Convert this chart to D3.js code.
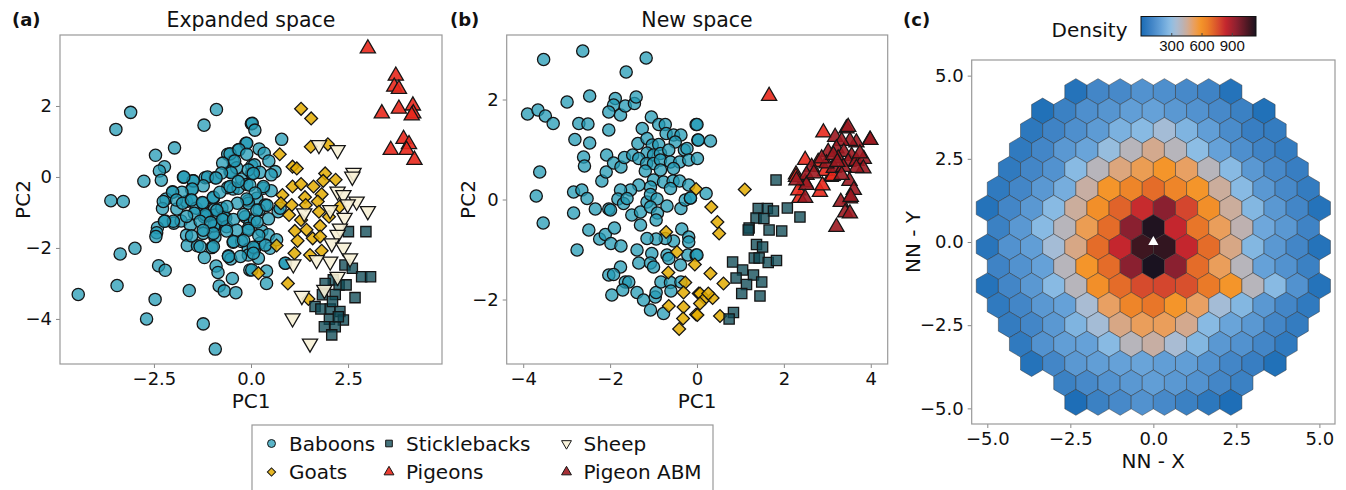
<!DOCTYPE html>
<html>
<head>
<meta charset="utf-8">
<script src="https://d3js.org/d3.v7.min.js"></script>
<style>
  body { margin: 0; background: #fff; }
  svg text { font-family: "DejaVu Sans", sans-serif; fill: #111; }
</style>
</head>
<body>
<div id="chart"></div>
<script>
// ---- panel (a): expanded space ----
const baboonsA = [[-3.10,1.82],[-3.48,1.34],[-0.89,1.90],[-1.21,1.46],[-1.97,0.82],[-2.46,0.61],[-2.23,0.29],[-2.36,0.17],[-2.31,-0.09],[-2.76,-0.12],[-3.61,-0.67],[-3.29,-0.69],[-2.02,-0.42],[-2.19,-0.62],[-2.28,-0.89],[-1.91,-0.90],[-2.21,-1.24],[-1.99,-1.30],[-2.41,-1.43],[-2.43,-1.57],[-2.45,-1.68],[-1.74,-0.01],[-1.49,-0.11],[-1.53,-0.35],[-1.66,-0.69],[-1.80,-1.24],[-1.56,-1.36],[-1.66,-1.64],[-1.64,-1.93],[-1.38,-1.94],[-1.18,-0.02],[-0.92,-0.02],[-1.55,-0.64],[-1.41,-0.88],[-1.23,-0.74],[-0.97,-0.60],[-0.94,-0.91],[-1.21,-1.12],[-0.93,-1.07],[-0.75,-0.88],[-0.65,-1.15],[-0.90,-1.35],[-1.23,-1.59],[-0.93,-1.70],[-1.01,-1.99],[-1.20,-2.27],[-0.90,-2.51],[-0.85,-2.69],[-0.48,-2.86],[-0.82,-3.07],[-0.69,-3.21],[-0.39,-3.26],[-1.59,-3.20],[-1.23,-4.14],[-0.92,-4.85],[-2.69,-4.00],[-2.47,-3.45],[-3.45,-3.06],[-4.45,-3.31],[-2.38,-2.50],[-2.21,-2.63],[-2.99,-2.01],[-3.37,-2.17],[-0.60,0.64],[-0.33,0.76],[-0.13,0.95],[0.01,1.50],[-0.46,0.45],[-0.54,0.15],[-0.37,0.26],[-0.60,-0.30],[-0.46,-0.34],[-0.33,-0.32],[-0.24,-0.06],[-0.11,-0.21],[-0.07,-0.67],[-0.15,-1.12],[-0.46,-1.84],[-0.24,-1.82],[-0.58,-2.22],[-0.52,-2.31],[-0.03,-1.32],[-0.07,-2.04],[-0.03,-2.62],[0.02,0.31],[0.02,0.10],[-1.14,-1.09],[-0.70,-1.12],[-0.96,-1.38],[-0.63,-1.40],
  [0.03,1.51],[0.10,1.32],[0.79,1.06],[-0.11,0.95],[0.21,0.79],[0.34,0.67],[0.46,0.45],[0.09,0.34],[0.62,0.15],[0.23,0.13],[0.52,0.06],[-0.07,0.20],[-0.03,-0.23],[0.32,-0.32],[0.52,-0.39],[0.15,-0.60],[-0.07,-0.74],[0.36,-0.79],[0.70,-0.98],[0.21,-0.93],[0.09,-1.21],[-0.07,-1.45],[0.28,-1.52],[0.45,-1.63],[0.23,-1.87],[0.49,-2.01],[0.10,-2.01],[-0.07,-2.20],[0.19,-2.29],[0.40,-2.65],[0.02,-2.62],[0.40,-3.00],[0.89,-2.43],[0.75,-0.88],
  [-0.54,0.65],[-0.31,0.77],[-0.11,0.64],[-0.42,0.45],[-0.73,0.39],[-0.51,0.12],[-0.76,0.11],[-1.12,0.00],[-0.90,-0.03],[-1.23,-0.25],[-1.49,-0.11],[-1.73,0.00],[-1.51,-0.34],[-1.78,-0.43],[-2.02,-0.43],[-2.26,-0.69],[-1.92,-0.65],[-1.76,-0.74],[-1.53,-0.65],[-1.25,-0.72],[-0.97,-0.57],[-0.80,-0.43],[-0.54,-0.27],[-0.33,-0.13],[0.06,0.10],[0.32,-0.27],[0.11,-0.45],[-0.11,-0.62],[-0.35,-0.74],[-0.62,-0.83],[-0.88,-0.94],[-1.18,-1.06],[-1.46,-1.02],[-1.66,-1.11],[-2.00,-1.25],[-2.23,-1.25],[-1.31,-1.25],[-1.04,-1.28],[-0.73,-1.20],[-0.45,-1.20],[-0.19,-1.06],[0.15,-0.94],[0.41,-0.80],[0.45,-1.18],[0.16,-1.27],[-0.07,-1.50],[-0.37,-1.50],[-0.63,-1.52],[-0.97,-1.59],[-1.23,-1.50],[-1.53,-1.66],[-1.31,-1.96],[-0.97,-1.96],[-0.45,-1.82],[-0.19,-1.79],[0.06,-1.98],[0.37,-1.92],[0.20,-1.65],[0.06,-2.15],[-0.58,-2.24],[-0.27,-2.24],[0.66,-1.77],[0.88,-2.43]];
const goatsA = [[1.29,1.92],[1.55,1.65],[1.54,0.85],[1.98,0.92],[0.74,0.64],[1.07,0.29],[1.18,0.24],[1.91,0.10],[2.18,-0.08],[1.86,-0.11],[1.07,-0.27],[1.29,-0.20],[1.61,-0.27],[0.81,-0.51],[1.39,-0.57],[1.82,-0.49],[0.77,-0.74],[1.05,-0.79],[1.41,-0.79],[1.72,-0.69],[2.28,-0.84],[0.98,-1.07],[1.75,-0.98],[2.01,-1.12],[1.29,-1.21],[1.43,-1.49],[1.78,-1.38],[1.13,-1.52],[1.20,-1.80],[1.59,-1.73],[1.78,-1.68],[0.66,-1.93],[1.12,-2.15],[1.52,-2.20],[1.82,-2.08],[0.19,-2.71],[0.95,-3.00],[1.48,-3.44]];
const sticklebacksA = [[2.96,-1.54],[2.51,-1.54],[2.42,-2.48],[2.61,-2.57],[2.85,-2.81],[3.08,-2.81],[2.68,-3.40],[2.12,-2.90],[1.91,-3.00],[2.27,-3.04],[2.17,-3.31],[1.84,-3.32],[2.45,-3.04],[1.65,-3.65],[1.80,-3.72],[2.04,-3.72],[2.29,-3.79],[2.10,-3.51],[2.02,-4.01],[2.38,-4.03],[1.89,-4.22],[2.17,-4.22],[2.08,-4.45],[2.25,-3.94]];
const pigeonsA = [[3.01,3.62],[3.73,2.85],[3.69,2.54],[3.81,2.48],[3.37,1.79],[3.81,1.92],[4.17,2.01],[4.18,1.79],[4.14,1.73],[3.93,1.07],[4.07,0.92],[3.60,0.76],[4.01,0.76],[4.21,0.48]];
const sheepA = [[1.75,0.90],[2.23,0.76],[2.64,0.12],[2.61,0.01],[2.23,-0.41],[2.38,-0.51],[2.72,-0.69],[2.49,-0.77],[3.01,-0.96],[2.04,-0.93],[2.41,-1.15],[2.29,-1.45],[2.23,-1.63],[2.08,-1.87],[2.38,-1.99],[2.55,-2.29],[2.04,-2.38],[1.69,-2.34],[1.09,-2.46],[2.23,-2.81],[1.89,-3.18],[1.31,-3.35],[1.07,-3.98],[1.52,-4.69],[1.37,-1.02]];

// ---- panel (b): new space ----
const baboonsB = [[-3.53,2.80],[-2.63,2.97],[-1.17,2.83],[-1.63,2.55],[-3.90,1.71],[-3.66,1.79],[-3.49,1.67],[-3.31,1.52],[-2.99,1.95],[-2.47,2.07],[-2.72,1.52],[-2.51,1.51],[-2.81,1.20],[-2.47,1.13],[-2.61,0.85],[-2.59,0.67],[-3.62,0.55],[-3.70,0.07],[-3.54,-0.47],[-2.84,0.15],[-2.65,0.19],[-2.53,0.02],[-2.84,-0.27],[-2.34,-0.19],[-2.49,-0.61],[-2.76,-1.01],[-2.24,-0.79],[-2.11,-0.70],[-1.98,-0.88],[-1.75,-0.93],[-1.90,-0.57],[-2.03,-0.19],[-1.88,2.02],[-1.92,1.89],[-2.03,1.75],[-1.76,1.69],[-1.65,1.87],[-1.44,1.92],[-1.40,2.05],[-2.03,1.39],[-2.08,0.89],[-2.19,0.37],[-2.09,0.55],[-1.92,0.73],[-1.75,0.65],[-1.67,0.84],[-1.48,0.89],[-1.36,1.12],[-1.26,1.42],[-1.05,1.65],[-0.88,1.50],[-0.73,1.50],[-0.71,1.32],[-0.54,1.29],[-0.37,1.29],[-0.50,1.15],[-0.29,0.99],[-0.23,1.02],[-0.02,1.50],[0.02,1.19],[-1.15,1.22],[-1.03,1.09],[-0.88,1.10],[-1.15,0.93],[-1.34,0.82],[-1.00,0.89],[-0.84,0.92],[-0.65,0.99],[-1.16,0.72],[-1.00,0.72],[-0.84,0.79],[-0.61,0.75],[-0.40,0.75],[-0.19,0.79],[-0.84,0.59],[-0.54,0.62],[-1.19,0.57],[-1.00,0.39],[-0.77,0.35],[-0.55,0.37],[-0.40,0.37],[-0.19,0.29],[-0.61,0.22],[-1.07,0.25],[-1.34,0.29],[-1.53,0.19],[-1.76,0.19],[-1.82,0.01],[-1.69,-0.08],[-1.61,0.02],[-1.50,-0.31],[-1.30,-0.25],[-1.15,-0.05],[-1.07,0.10],[-0.92,0.01],[-1.07,-0.15],[-0.91,-0.27],[-0.69,-0.13],[-0.94,-0.41],[-1.30,-0.51],[-1.99,-0.21],[-0.37,-0.18],[-0.27,-0.01],[-0.15,0.03],[-0.35,-0.59],[-0.19,-0.75],[-0.19,-0.85],[-0.54,-0.83],[-0.73,-0.78],[-0.94,-0.79],[-1.15,-0.78],[-0.69,-1.11],[-0.65,-1.18],[-1.04,-1.08],[-1.38,-1.01],[-1.34,-1.27],[-1.07,-1.27],[-1.00,-1.35],[-1.76,-1.35],[-2.03,-1.51],[-1.92,-1.50],[-1.65,-1.65],[-1.57,-1.65],[-1.71,-1.81],[-1.38,-1.86],[-1.23,-2.01],[-0.96,-1.95],[-0.94,-1.86],[-1.96,-1.91],[-0.83,-1.65],[-0.61,-1.66],[-0.60,-1.83],[-1.07,-2.21],[-0.77,-2.28],[-0.37,-1.65],[-0.21,-1.11],[-0.02,-1.11],[-0.38,-1.31],[0.00,1.50],[0.03,1.19],[0.31,1.17],[0.01,0.82],[0.21,0.12],[-0.15,0.03],[0.00,-1.11]];
const goatsB = [[-0.02,0.21],[-0.71,-0.65],[-0.46,-1.05],[-0.05,-1.30],[-0.66,-1.46],[-0.27,-1.66],[-0.31,-1.86],[0.04,-1.88],[-0.65,-2.13],[-0.31,-2.15],[-0.32,-2.38],[-0.41,-2.59],[-0.02,-2.30],[1.10,0.20],[0.33,-0.15],[0.47,-0.45],[0.51,-0.68],[0.31,-1.48],[0.61,-1.68],[0.07,-1.88],[0.18,-1.98],[0.36,-1.97],[0.07,-2.08],[0.01,-2.31],[0.53,-2.33],[0.26,-1.88]];
const sticklebacksB = [[1.82,0.39],[1.41,-0.18],[1.62,-0.18],[1.76,-0.23],[2.08,-0.17],[2.37,-0.35],[1.36,-0.37],[1.54,-0.38],[1.20,-0.57],[1.18,-0.61],[1.66,-0.61],[1.95,-0.63],[1.37,-0.90],[1.51,-0.95],[1.32,-1.17],[1.43,-1.17],[1.64,-1.26],[1.83,-1.22],[0.82,-1.25],[1.05,-1.41],[0.90,-1.57],[1.30,-1.51],[1.14,-1.70],[1.49,-1.65],[1.03,-1.88],[1.45,-1.93],[0.84,-2.26],[0.74,-2.39]];
const pigeonsB = [[1.66,2.07],[2.91,1.34],[2.49,0.79],[2.79,0.75],[2.28,0.50],[2.36,0.03],[2.83,0.15],[3.08,0.45],[2.95,0.57],[2.49,0.34],[2.89,0.28],[2.33,0.18],[3.12,0.47],[2.28,0.45]];
const pigeonAbmB = [[3.44,1.42],[3.98,1.19],[3.67,1.14],[3.52,1.17],[3.18,1.25],[3.33,1.17],[3.21,1.02],[3.02,0.95],[3.38,0.95],[3.56,0.87],[3.25,0.82],[3.48,0.75],[3.67,0.77],[3.84,0.81],[3.83,0.62],[3.67,0.63],[3.15,0.63],[2.98,0.72],[2.64,0.65],[2.52,0.49],[2.52,0.29],[2.49,0.03],[2.69,0.52],[3.51,0.37],[3.61,0.19],[3.52,0.02],[3.31,-0.05],[3.41,-0.26],[3.52,-0.28],[3.21,-0.55],[2.87,0.82],[3.37,0.65],[3.14,0.89],[3.75,0.92],[3.33,0.49],[3.23,0.75],[3.54,0.05],[3.48,1.45],[2.29,0.38],[3.99,1.19]];

// ---- panel (c): hexbin counts, one array per row, top row first ----
const hexCounts = [
  [30,110,120,150,140,120,100,30],
  [20,90,140,160,190,200,170,150,120,90,20],
  [50,100,140,180,250,280,340,260,190,130,80,70],
  [60,110,170,210,310,400,470,400,290,200,140,100,70],
  [60,110,150,280,400,490,540,590,520,400,280,170,120,80],
  [60,110,170,240,440,590,640,700,640,590,450,280,170,120,70],
  [30,110,170,280,450,610,720,830,950,780,610,450,270,170,110,30],
  [90,170,280,400,540,700,950,1130,840,680,530,420,220,170,100],
  [40,150,190,340,480,700,840,1080,1100,840,700,480,270,170,110,30],
  [100,150,200,400,590,700,950,1140,950,700,530,400,200,150,90],
  [30,110,170,280,400,610,700,770,780,760,670,590,400,280,150,30],
  [60,110,170,200,350,520,640,680,590,520,340,270,170,110,60],
  [70,110,170,260,340,480,530,530,470,280,210,170,110,70],
  [60,150,190,200,280,400,440,350,270,170,150,110,60],
  [30,110,170,190,200,210,190,190,150,110,80,20],
  [90,120,150,170,190,170,150,110,90],
  [10,90,120,150,120,90,50,10]
];
// hexbin extent / gridsize
const hexXMin = -5, hexXMax = 5, hexYMin = -4.82, hexYMax = 4.52, hexNx = 15, hexNy = 8;
const focal = [[0, 0]];

const densityTicks = [300, 600, 900];
const densityMax = 1140;

const legendItems = [
  {name: "Baboons", kind: "baboon"},
  {name: "Goats", kind: "goat"},
  {name: "Sticklebacks", kind: "stickle"},
  {name: "Pigeons", kind: "pigeon"},
  {name: "Sheep", kind: "sheep"},
  {name: "Pigeon ABM", kind: "abm"}
];

// ---------------- drawing ----------------
const W = 1346, H = 490;
const svg = d3.select("#chart").append("svg").attr("width", W).attr("height", H);

const style = {
  baboon:  {fill: "#239bb5", op: 0.75, type: d3.symbolCircle,   size: 118, rot: 0},
  goat:    {fill: "#e3ab00", op: 0.85, type: d3.symbolSquare,   size: 82,  rot: 45},
  stickle: {fill: "#0f4c57", op: 0.78, type: d3.symbolSquare,   size: 105, rot: 0},
  pigeon:  {fill: "#e8281c", op: 0.9,  type: d3.symbolTriangle, size: 100, rot: 0},
  sheep:   {fill: "#f7f1d6", op: 0.9,  type: d3.symbolTriangle, size: 100, rot: 180},
  abm:     {fill: "#9c1820", op: 0.9,  type: d3.symbolTriangle, size: 100, rot: 0}
};

function frame(g, x, y, xt, yt, fmt) {
  const [x0, x1] = x.range(), [y1, y0] = y.range();
  g.append("g").attr("transform", `translate(0,${y1})`)
    .call(d3.axisBottom(x).tickValues(xt).tickFormat(d3.format(fmt)).tickSize(4).tickPadding(4).tickSizeOuter(0))
    .call(a => a.select(".domain").remove());
  g.append("g").attr("transform", `translate(${x0},0)`)
    .call(d3.axisLeft(y).tickValues(yt).tickFormat(d3.format(fmt)).tickSize(4).tickPadding(4).tickSizeOuter(0))
    .call(a => a.select(".domain").remove());
  g.selectAll(".tick line").attr("stroke", "#888");
  g.selectAll(".tick text").attr("font-size", 18).attr("fill", "#111");
  g.append("rect").attr("x", x0).attr("y", y0).attr("width", x1 - x0).attr("height", y1 - y0)
    .attr("fill", "none").attr("stroke", "#999").attr("stroke-width", 1.2);
}

function scatter(g, x, y, data, kind) {
  const s = style[kind];
  const sym = d3.symbol().type(s.type).size(s.size);
  g.append("g").selectAll("path").data(data).join("path")
    .attr("d", sym)
    .attr("transform", d => `translate(${x(d[0])},${y(d[1])}) rotate(${s.rot})`)
    .attr("fill", s.fill).attr("fill-opacity", s.op)
    .attr("stroke", "#151515").attr("stroke-width", 1.3);
}

function labels(cx, cy, xb, yb, xl, yl) {
  svg.append("text").attr("x", cx).attr("y", xb).attr("text-anchor", "middle").attr("font-size", 20).text(xl);
  svg.append("text").attr("transform", `translate(${yb},${cy}) rotate(-90)`).attr("text-anchor", "middle").attr("font-size", 20).text(yl);
}

// panel a
const xa = d3.scaleLinear().domain([-4.92, 4.92]).range([60, 442]);
const ya = d3.scaleLinear().domain([-5.27, 4.0]).range([364, 35]);
const ga = svg.append("g");
scatter(ga, xa, ya, baboonsA, "baboon");
scatter(ga, xa, ya, goatsA, "goat");
scatter(ga, xa, ya, sticklebacksA, "stickle");
scatter(ga, xa, ya, pigeonsA, "pigeon");
scatter(ga, xa, ya, sheepA, "sheep");
frame(ga, xa, ya, [-2.5, 0, 2.5], [-4, -2, 0, 2], ".1~f");
ga.selectAll(".tick text").filter(function() { return this.parentNode.parentNode.getAttribute("transform").startsWith("translate(0"); })
  .text(d => d3.format(".1f")(d));
labels(251, 199.5, 408, 30, "PC1", "PC2");
svg.append("text").attr("x", 251).attr("y", 27).attr("text-anchor", "middle").attr("font-size", 20.5).text("Expanded space");
svg.append("text").attr("x", 12).attr("y", 26).attr("font-size", 18).attr("font-weight", "bold").text("(a)");

// panel b
const xb = d3.scaleLinear().domain([-4.38, 4.39]).range([506.7, 887.7]);
const yb = d3.scaleLinear().domain([-3.29, 3.29]).range([364, 35]);
const gb = svg.append("g");
scatter(gb, xb, yb, baboonsB, "baboon");
scatter(gb, xb, yb, goatsB, "goat");
scatter(gb, xb, yb, sticklebacksB, "stickle");
scatter(gb, xb, yb, pigeonsB, "pigeon");
scatter(gb, xb, yb, pigeonAbmB, "abm");
frame(gb, xb, yb, [-4, -2, 0, 2, 4], [-2, 0, 2], "d");
labels(697, 199.5, 408, 475, "PC1", "PC2");
svg.append("text").attr("x", 697).attr("y", 27).attr("text-anchor", "middle").attr("font-size", 20.5).text("New space");
svg.append("text").attr("x", 450).attr("y", 26).attr("font-size", 18).attr("font-weight", "bold").text("(b)");

// panel c
const xc = d3.scaleLinear().domain([-5.47, 5.47]).range([971.7, 1335]);
const yc = d3.scaleLinear().domain([-5.47, 5.47]).range([424, 60]);
const color = d3.scaleLinear()
  .domain([0, 100, 200, 290, 350, 410, 460, 520, 590, 660, 720, 780, 840, 950, 1080, densityMax])
  .range(["#1a6cb5","#3f83c5","#65a1d8","#8cbde4","#a9bcd3","#bab3b6","#cfab96","#e8a063","#f4952a","#ec7f28","#e0632a","#d4462e","#c4262e","#8a2030","#3e1620","#1a1220"])
  .clamp(true);

const sx = (hexXMax - hexXMin) / hexNx, sy = (hexYMax - hexYMin) / hexNy;
const bins = [];
hexCounts.forEach((row, k) => {
  const lat1 = k % 2 === 0;
  const slots = lat1 ? hexNx + 1 : hexNx;
  const start = (slots - row.length) / 2;
  const yv = hexYMax - k * sy / 2;
  row.forEach((c, j) => {
    const xv = hexXMin + (lat1 ? 0 : sx / 2) + (start + j) * sx;
    bins.push({x: xv, y: yv, c: c});
  });
});
const hexShape = [[.5,-.5],[.5,.5],[0,1],[-.5,.5],[-.5,-.5],[0,-1]].map(p => [p[0] * sx, p[1] * sy / 3]);
const gc = svg.append("g");
gc.selectAll("path.hex").data(bins).join("path").attr("class", "hex")
  .attr("d", d => "M" + hexShape.map(p => [xc(d.x + p[0]), yc(d.y + p[1])].join(",")).join("L") + "Z")
  .attr("fill", d => color(d.c))
  .attr("stroke", "#2a2a2a").attr("stroke-width", 0.6).attr("stroke-opacity", 0.75);
gc.selectAll("path.focal").data(focal).join("path").attr("class", "focal")
  .attr("d", d3.symbol().type(d3.symbolTriangle).size(45))
  .attr("transform", d => `translate(${xc(d[0])},${yc(d[1])})`)
  .attr("fill", "#fff");
frame(gc, xc, yc, [-5, -2.5, 0, 2.5, 5], [-5, -2.5, 0, 2.5, 5], ".1f");
labels(1153.3, 242, 468, 920, "NN - X", "NN - Y");
svg.append("text").attr("x", 903).attr("y", 26).attr("font-size", 18).attr("font-weight", "bold").text("(c)");

// colorbar
const cb = d3.scaleLinear().domain([0, densityMax]).range([1141, 1256]);
const grad = svg.append("defs").append("linearGradient").attr("id", "dens");
d3.range(0, 1.0001, 0.02).forEach(t => {
  grad.append("stop").attr("offset", t).attr("stop-color", color(t * densityMax));
});
svg.append("rect").attr("x", 1141).attr("y", 16.5).attr("width", 115).attr("height", 19.5)
  .attr("fill", "url(#dens)").attr("stroke", "#111").attr("stroke-width", 1);
svg.append("g").attr("transform", "translate(0,36)")
  .call(d3.axisBottom(cb).tickValues(densityTicks).tickSize(3).tickPadding(1.5).tickSizeOuter(0))
  .call(a => a.select(".domain").remove())
  .call(a => a.selectAll(".tick line").attr("stroke", "#444").attr("transform", "translate(0,-3)"))
  .call(a => a.selectAll(".tick text").style("font-family", "'Liberation Sans', sans-serif").style("font-size", "15px").attr("fill", "#111"));
svg.append("text").attr("x", 1051.5).attr("y", 36.5).attr("font-size", 20).text("Density");

// legend
const lg = svg.append("g");
lg.append("rect").attr("x", 252).attr("y", 425).attr("width", 461).attr("height", 80)
  .attr("fill", "#fff").attr("stroke", "#999").attr("stroke-width", 1.2);
const colX = [271.5, 389, 566.5], textX = [289, 406, 583.5], rowY = [443.5, 472];
legendItems.forEach((it, i) => {
  const c = Math.floor(i / 2), r = i % 2;
  const s = style[it.kind];
  lg.append("path")
    .attr("d", d3.symbol().type(s.type).size(s.size * 0.42)())
    .attr("transform", `translate(${colX[c]},${rowY[r]}) rotate(${s.rot})`)
    .attr("fill", s.fill).attr("fill-opacity", s.op).attr("stroke", "#151515").attr("stroke-width", 1);
  lg.append("text").attr("x", textX[c]).attr("y", rowY[r] + 7).attr("font-size", 20).text(it.name);
});
</script>
</body>
</html>
